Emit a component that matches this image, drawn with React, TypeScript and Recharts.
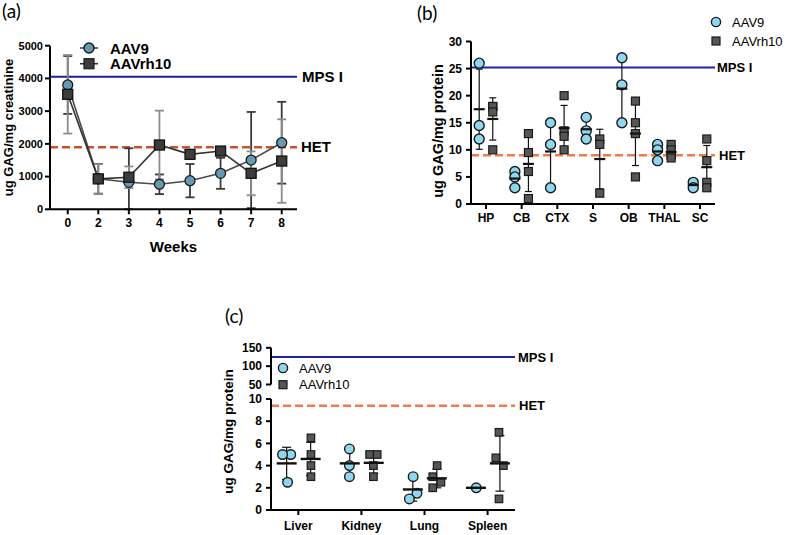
import React from "react";
import {
  ComposedChart,
  Line,
  Scatter,
  XAxis,
  YAxis,
  ErrorBar,
  ReferenceLine,
  Label,
  Legend,
} from "recharts";

// ---------- (a) urinary GAG over time ----------
const weeks = ["0", "2", "3", "4", "5", "6", "7", "8"];
const urineAav9 = [3800, 930, 825, 765, 875, 1100, 1505, 2035];
const urineAav9Sd = [885, 455, 1040, 300, 510, 475, 1470, 1250];
const urineRh10 = [3515, 930, 980, 1965, 1680, 1780, 1100, 1475];
const urineRh10Sd = [1200, 450, 330, 1050, 80, 80, 670, 1275];
const urineTicks = [0, 1000, 2000, 3000, 4000, 5000];
const urineMps = 4050;
const urineHet = 1900;

// ---------- (b) brain regions ----------
const regions = ["HP", "CB", "CTX", "S", "OB", "THAL", "SC"];
const brainAav9 = [[26, 14.5, 12], [6, 5, 3], [15, 11, 3], [16, 13.5, 12], [27, 22, 15], [11, 10, 8], [4, 3]];
const brainAav9Mean = [17.5, 4.7, 9.7, 13.8, 21.3, 9.7, 3.5];
const brainAav9Sd = [7.4, 1.5, 6.1, 2.0, 6.0, 1.5, 0.7];
const brainRh10 = [[18, 18, 17, 10], [13, 9.5, 6, 1], [20, 13.5, 12.5, 10], [12, 11, 2], [19, 15, 13, 5], [11, 10, 9, 8.5], [12, 8, 4, 3]];
const brainRh10Mean = [15.7, 7.4, 14, 8.3, 13, 9.6, 6.8];
const brainRh10Sd = [3.9, 5.1, 4.2, 5.5, 5.9, 1.1, 4.0];
const brainTicks = [0, 5, 10, 15, 20, 25, 30];
const brainMps = 25.2;
const brainHet = 9;

// ---------- (c) peripheral organs ----------
const organs = ["Liver", "Kidney", "Lung", "Spleen"];
const organAav9 = [[5, 5, 2.5], [5.5, 4, 3], [3, 1.5, 1], [2]];
const organAav9Jitter = [[-0.12, -0.25, -0.17], [-0.19, -0.19, -0.19], [-0.18, -0.12, -0.24], [-0.18]];
const organAav9Mean = [4.2, 4.2, 1.85, 2.0];
const organAav9Sd = [1.45, 1.25, 1.05, 0];
const organRh10 = [[6.5, 5, 4, 3], [5, 5, 4, 3], [4, 3, 2.5, 2], [7, 4.7, 4, 1]];
const organRh10Jitter = [[0.2, 0.2, 0.2, 0.2], [0.13, 0.25, 0.19, 0.19], [0.2, 0.13, 0.26, 0.13], [0.18, 0.13, 0.25, 0.18]];
const organRh10Mean = [4.6, 4.25, 2.85, 4.2];
const organRh10Sd = [1.5, 0.95, 0.85, 2.5];
const organTopTicks = [50, 100, 150];
const organTicks = [0, 2, 4, 6, 8, 10];
const organMps = 125;
const organHet = 9.4;

const FONT = "'Liberation Sans', Arial, Helvetica, sans-serif";
const MPS_A = "#1c1c9e";
const HET_A = "#c9532b";
const MPS = "#2222b0";
const HET = "#f07a4b";
const CYAN = "#8fd6ef";
const SQUARE = "#565656";
const axisLine = { stroke: "#000", strokeWidth: 2 };

type Pt = { x: number; y: number; sd?: number };

const urineData = weeks.map((_, i) => ({
  idx: i,
  aav9: urineAav9[i],
  aav9Err: [Math.min(urineAav9Sd[i], urineAav9[i]), urineAav9Sd[i]],
  rh10: urineRh10[i],
  rh10Err: [Math.min(urineRh10Sd[i], urineRh10[i]), urineRh10Sd[i]],
}));

function groupPoints(groups: number[][], shift: number, jitter?: number[][]): Pt[] {
  return groups.flatMap((vals, i) =>
    vals.map((v, j) => ({ x: i + (jitter ? jitter[i][j] : shift), y: v })),
  );
}

function groupMeans(means: number[], sds: number[], shift: number): Pt[] {
  return means.map((m, i) => ({ x: i + shift, y: m, sd: sds[i] }));
}

const circleShape = (r: number) => (p: any) => (
  <circle cx={p.cx} cy={p.cy} r={r} fill={CYAN} stroke="#1a1a1a" strokeWidth={1.4} />
);
const squareShape = (s: number) => (p: any) => (
  <rect x={p.cx - s / 2} y={p.cy - s / 2} width={s} height={s} fill={SQUARE} stroke="#1a1a1a" strokeWidth={1.2} />
);
const meanShape = (half: number, w: number) => (p: any) => (
  <line x1={p.cx - half} x2={p.cx + half} y1={p.cy} y2={p.cy} stroke="#111" strokeWidth={w} />
);
const noShape = () => <g />;

function yTitle(text: string, x: number, y: number, size: number) {
  return () => (
    <text
      x={x}
      y={y}
      transform={`rotate(-90 ${x} ${y})`}
      textAnchor="middle"
      dominantBaseline="central"
      fontSize={size}
      fontWeight="bold"
      fill="#000"
    >
      {text}
    </text>
  );
}

function SeriesKey({ size, bold, gap, line }: { size: number; bold?: boolean; gap: number; line?: boolean }) {
  return (
    <svg width={130} height={gap + 18} style={{ display: "block", overflow: "visible" }}>
      {line && <line x1={2} y1={9} x2={20} y2={9} stroke="#444" strokeWidth={1.6} />}
      {line && <line x1={2} y1={9 + gap} x2={20} y2={9 + gap} stroke="#333" strokeWidth={1.6} />}
      <circle cx={11} cy={9} r={line ? 5 : 4.6} fill={line ? "#6798b4" : CYAN} stroke="#1a1a1a" strokeWidth={1.4} />
      <rect
        x={line ? 6 : 7}
        y={9 + gap - (line ? 5 : 4)}
        width={line ? 10 : 8}
        height={line ? 10 : 8}
        fill={line ? "#3c3c3c" : SQUARE}
        stroke="#1a1a1a"
        strokeWidth={1.2}
      />
      <text x={line ? 32 : 27} y={9} dominantBaseline="central" fontSize={size} fontWeight={bold ? "bold" : "normal"} fill="#000">
        AAV9
      </text>
      <text x={line ? 32 : 27} y={9 + gap} dominantBaseline="central" fontSize={size} fontWeight={bold ? "bold" : "normal"} fill="#000">
        AAVrh10
      </text>
    </svg>
  );
}

function UrineChart() {
  return (
    <div style={{ position: "absolute", left: 0, top: 0 }}>
      <ComposedChart width={400} height={270} data={urineData} margin={{ top: 45.7, right: 103, bottom: 30.7, left: 5 }}>
        <XAxis
          type="number"
          dataKey="idx"
          domain={[-0.58, 7.5]}
          ticks={weeks.map((_, i) => i)}
          tickFormatter={(v) => weeks[v]}
          interval={0}
          height={30}
          axisLine={axisLine}
          tickLine={axisLine}
          tickSize={5}
          tickMargin={4}
          tick={{ fill: "#000", fontSize: 12, fontWeight: "bold" }}
        >
          <Label value="Weeks" position="bottom" offset={2} fontSize={15} fontWeight="bold" fill="#000" />
        </XAxis>
        <YAxis
          type="number"
          domain={[0, 5000]}
          ticks={urineTicks}
          interval={0}
          width={45}
          axisLine={axisLine}
          tickLine={axisLine}
          tickSize={5}
          tickMargin={2}
          tick={{ fill: "#000", fontSize: 11, fontWeight: "bold" }}
        >
          <Label content={yTitle("ug GAG/mg creatinine", 8.5, 127.5, 13)} />
        </YAxis>
        <ReferenceLine y={urineMps} stroke={MPS_A} strokeWidth={2}>
          <Label value="MPS I" position="right" offset={5} fontSize={15} fontWeight="bold" fill="#000" />
        </ReferenceLine>
        <ReferenceLine y={urineHet} stroke={HET_A} strokeWidth={2.5} strokeDasharray="8 4">
          <Label value="HET" position="right" offset={4} fontSize={15} fontWeight="bold" fill="#000" />
        </ReferenceLine>
        <Line
          dataKey="aav9"
          stroke="#4a4a4a"
          strokeWidth={1.6}
          isAnimationActive={false}
          dot={{ r: 5, fill: "#6798b4", stroke: "#1a1a1a", strokeWidth: 1.3 }}
        >
          <ErrorBar dataKey="aav9Err" direction="y" width={4.5} stroke="#3a3a3a" strokeWidth={1.8} />
        </Line>
        <Line
          dataKey="rh10"
          stroke="#333"
          strokeWidth={1.6}
          isAnimationActive={false}
          dot={(p: any) => (
            <rect key={`sq-${p.index}`} x={p.cx - 5} y={p.cy - 5} width={10} height={10} fill="#3c3c3c" stroke="#111" strokeWidth={1.3} />
          )}
        >
          <ErrorBar dataKey="rh10Err" direction="y" width={4.5} stroke="#8c8c8c" strokeWidth={1.8} />
        </Line>
        <Legend
          layout="horizontal"
          verticalAlign="middle"
          align="center"
          wrapperStyle={{ left: 78, top: 39, width: 130, height: 36 }}
          content={() => <SeriesKey size={15} bold gap={15.7} line />}
        />
      </ComposedChart>
    </div>
  );
}

function BrainChart() {
  const aPts = groupPoints(brainAav9, -0.19);
  const rPts = groupPoints(brainRh10, 0.19);
  const aMean = groupMeans(brainAav9Mean, brainAav9Sd, -0.19);
  const rMean = groupMeans(brainRh10Mean, brainRh10Sd, 0.19);
  return (
    <div style={{ position: "absolute", left: 400, top: 0 }}>
      <ComposedChart width={391} height={240} margin={{ top: 41.5, right: 76, bottom: 6, left: 26 }}>
        <XAxis
          type="number"
          dataKey="x"
          domain={[-0.42, 6.42]}
          ticks={regions.map((_, i) => i)}
          tickFormatter={(v) => regions[v]}
          interval={0}
          height={30}
          axisLine={axisLine}
          tickLine={axisLine}
          tickSize={5}
          tickMargin={4}
          tick={{ fill: "#000", fontSize: 12, fontWeight: "bold" }}
        />
        <YAxis
          type="number"
          dataKey="y"
          domain={[0, 30]}
          ticks={brainTicks}
          interval={0}
          width={45}
          axisLine={axisLine}
          tickLine={axisLine}
          tickSize={5}
          tickMargin={4}
          tick={{ fill: "#000", fontSize: 12, fontWeight: "bold" }}
        >
          <Label content={yTitle("ug GAG/mg protein", 38, 131, 14.5)} />
        </YAxis>
        <ReferenceLine y={brainMps} stroke={MPS} strokeWidth={2}>
          <Label value="MPS I" position="right" offset={2} fontSize={13} fontWeight="bold" fill="#000" />
        </ReferenceLine>
        <ReferenceLine y={brainHet} stroke={HET} strokeWidth={2.5} strokeDasharray="8 4">
          <Label value="HET" position="right" offset={4} fontSize={13} fontWeight="bold" fill="#000" />
        </ReferenceLine>
        <Scatter data={aMean} shape={noShape} isAnimationActive={false}>
          <ErrorBar dataKey="sd" direction="y" width={3.5} stroke="#111" strokeWidth={1.2} />
        </Scatter>
        <Scatter data={rMean} shape={noShape} isAnimationActive={false}>
          <ErrorBar dataKey="sd" direction="y" width={3.5} stroke="#111" strokeWidth={1.2} />
        </Scatter>
        <Scatter data={aPts} shape={circleShape(5)} isAnimationActive={false} />
        <Scatter data={rPts} shape={squareShape(8)} isAnimationActive={false} />
        <Scatter data={aMean} shape={meanShape(5.5, 2.2)} isAnimationActive={false} />
        <Scatter data={rMean} shape={meanShape(5.5, 2.2)} isAnimationActive={false} />
        <Legend
          layout="horizontal"
          verticalAlign="middle"
          align="center"
          wrapperStyle={{ left: 305, top: 13, width: 90, height: 36 }}
          content={() => <SeriesKey size={13} gap={19} />}
        />
      </ComposedChart>
    </div>
  );
}

function OrganTop() {
  return (
    <div style={{ position: "absolute", left: 210, top: 330 }}>
      <ComposedChart width={360} height={66} margin={{ top: 17.8, right: 55, bottom: 11.5, left: 16 }}>
        <XAxis type="number" dataKey="x" domain={[-0.433, 3.434]} allowDataOverflow hide />
        <YAxis
          type="number"
          domain={[50, 150]}
          allowDataOverflow
          ticks={organTopTicks}
          interval={0}
          width={45}
          axisLine={axisLine}
          tickLine={axisLine}
          tickSize={5}
          tickMargin={4}
          tick={{ fill: "#000", fontSize: 12, fontWeight: "bold" }}
        />
        <ReferenceLine y={organMps} stroke={MPS} strokeWidth={2}>
          <Label value="MPS I" position="right" offset={3} fontSize={13} fontWeight="bold" fill="#000" />
        </ReferenceLine>
        <Legend
          layout="horizontal"
          verticalAlign="middle"
          align="center"
          wrapperStyle={{ left: 62, top: 29, width: 100, height: 34 }}
          content={() => <SeriesKey size={13} gap={16.7} />}
        />
      </ComposedChart>
    </div>
  );
}

function OrganBottom() {
  const aPts = groupPoints(organAav9, 0, organAav9Jitter);
  const rPts = groupPoints(organRh10, 0, organRh10Jitter);
  const aMean = groupMeans(organAav9Mean, organAav9Sd, -0.185);
  const rMean = groupMeans(organRh10Mean, organRh10Sd, 0.195);
  return (
    <div style={{ position: "absolute", left: 210, top: 340 }}>
      <ComposedChart width={360} height={195} margin={{ top: 59, right: 55, bottom: 0, left: 16 }}>
        <XAxis
          type="number"
          dataKey="x"
          domain={[-0.433, 3.434]}
          ticks={organs.map((_, i) => i)}
          tickFormatter={(v) => organs[v]}
          interval={0}
          height={25}
          axisLine={axisLine}
          tickLine={axisLine}
          tickSize={5}
          tickMargin={6}
          tick={{ fill: "#000", fontSize: 12, fontWeight: "bold" }}
        />
        <YAxis
          type="number"
          dataKey="y"
          domain={[0, 10]}
          ticks={organTicks}
          interval={0}
          width={45}
          axisLine={axisLine}
          tickLine={axisLine}
          tickSize={5}
          tickMargin={4}
          tick={{ fill: "#000", fontSize: 12, fontWeight: "bold" }}
        >
          <Label content={yTitle("ug GAG/mg protein", 18.5, 91.5, 13.5)} />
        </YAxis>
        <ReferenceLine y={organHet} stroke={HET} strokeWidth={2.5} strokeDasharray="8 4">
          <Label value="HET" position="right" offset={4} fontSize={13} fontWeight="bold" fill="#000" />
        </ReferenceLine>
        <Scatter data={aMean} shape={noShape} isAnimationActive={false}>
          <ErrorBar dataKey="sd" direction="y" width={4.5} stroke="#111" strokeWidth={1.2} />
        </Scatter>
        <Scatter data={rMean} shape={noShape} isAnimationActive={false}>
          <ErrorBar dataKey="sd" direction="y" width={4.5} stroke="#111" strokeWidth={1.2} />
        </Scatter>
        <Scatter data={aPts} shape={circleShape(4.8)} isAnimationActive={false} />
        <Scatter data={rPts} shape={squareShape(7.5)} isAnimationActive={false} />
        <Scatter data={aMean} shape={meanShape(10, 2.4)} isAnimationActive={false} />
        <Scatter data={rMean} shape={meanShape(10, 2.4)} isAnimationActive={false} />
      </ComposedChart>
    </div>
  );
}

const panelTag: React.CSSProperties = {
  position: "absolute",
  fontFamily: "Lato, 'Open Sans', sans-serif",
  fontSize: 19,
  lineHeight: 1,
  color: "#000",
};

export default function App() {
  return (
    <div
      style={{
        position: "absolute",
        left: 0,
        top: 0,
        width: 791,
        height: 535,
        background: "#fff",
        fontFamily: FONT,
        overflow: "hidden",
      }}
    >
      <UrineChart />
      <BrainChart />
      <OrganTop />
      <OrganBottom />
      <div style={{ ...panelTag, left: 2, top: 1 }}>(a)</div>
      <div style={{ ...panelTag, left: 417, top: 3 }}>(b)</div>
      <div style={{ ...panelTag, left: 225, top: 306 }}>(c)</div>
    </div>
  );
}
